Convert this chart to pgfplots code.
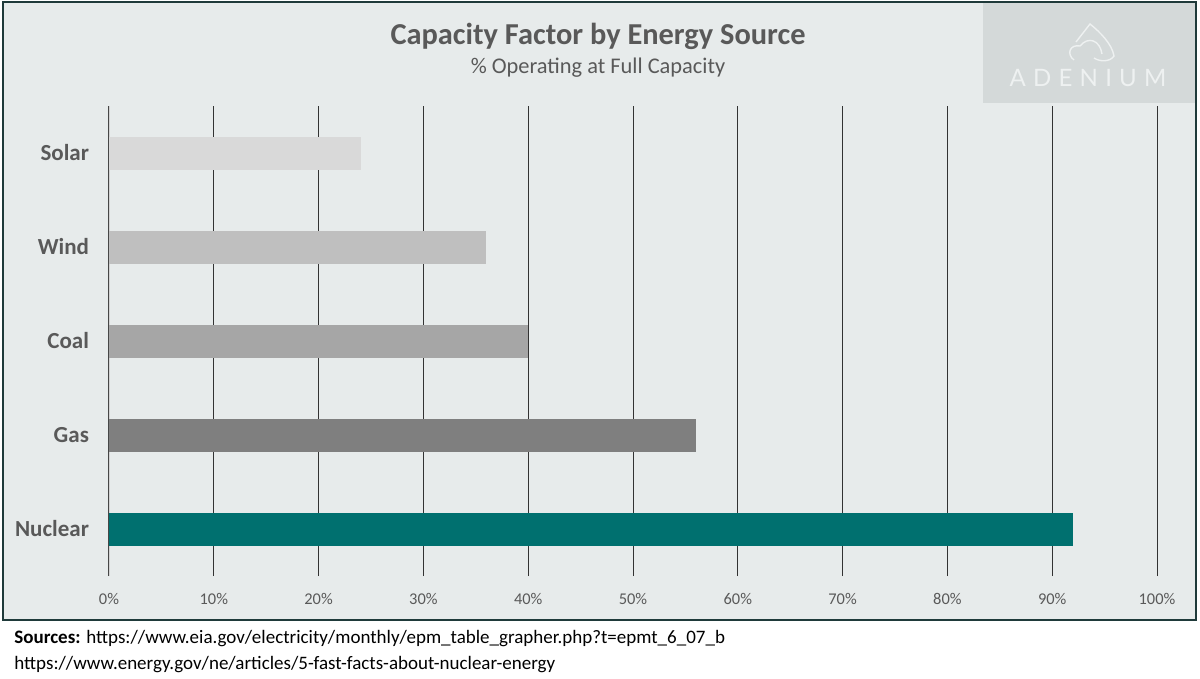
\documentclass[border=0pt]{standalone}
\usepackage{fontspec}
\setmainfont{Carlito}
\newfontfamily\adfont[LetterSpace=30]{Lato}
\usepackage{pgfplots}
\pgfplotsset{compat=1.18}
\definecolor{bg}{HTML}{E7EBEB}
\definecolor{wm}{HTML}{D4D9D9}
\definecolor{wmtext}{HTML}{EEF1F1}
\definecolor{frame}{HTML}{1F3A3A}
\definecolor{tgray}{HTML}{595959}
\definecolor{cSolar}{HTML}{D9D9D9}
\definecolor{cWind}{HTML}{BFBFBF}
\definecolor{cCoal}{HTML}{A6A6A6}
\definecolor{cGas}{HTML}{7F7F7F}
\definecolor{cNuc}{HTML}{00706F}
\begin{document}
\begin{tikzpicture}
\useasboundingbox (0,0) rectangle (600pt,-339.5pt);
\fill[bg] (1.5pt,-1pt) rectangle (598pt,-310pt);
\fill[wm] (491.5pt,-1pt) rectangle (598pt,-51.5pt);
% logo
\draw[wmtext, line width=0.7pt] (537pt,-30pt) .. controls (533pt,-27pt) and (535pt,-22pt) .. (540pt,-23pt)
  .. controls (544pt,-18pt) and (550pt,-20pt) .. (551pt,-27pt);
\draw[wmtext, line width=0.7pt] (538pt,-21pt) -- (545pt,-12pt) .. controls (550pt,-16pt) and (556pt,-22pt) .. (557pt,-28pt)
  .. controls (555pt,-31pt) and (550pt,-31pt) .. (547pt,-29pt);
\node[wmtext, font=\adfont\fontsize{12}{14}\selectfont] at (544pt,-39pt) {ADENIUM};
\node[text=tgray, font=\fontsize{15.2}{18}\selectfont\bfseries] at (299pt,-18pt) {Capacity Factor by Energy Source};
\node[text=tgray, font=\fontsize{11.2}{13}\selectfont] at (299pt,-34pt) {\% Operating at Full Capacity};
\begin{axis}[
  at={(54.5pt,-288pt)}, anchor=south west,
  scale only axis, width=524pt, height=235pt,
  xmin=0, xmax=100, ymin=-0.5, ymax=4.5,
  axis line style={draw=none},
  xtick={0,10,...,100},
  xticklabel={\pgfmathprintnumber{\tick}\%},
  ytick={0,1,2,3,4},
  yticklabels={Nuclear,Gas,Coal,Wind,Solar},
  major tick length=0pt,
  /pgf/number format/assume math mode=true,
  xticklabel style={text=tgray, font=\fontsize{8.2}{10}\selectfont, yshift=-5pt},
  yticklabel style={text=tgray, font=\fontsize{11.5}{13}\selectfont\bfseries, xshift=-6.5pt},
  xmajorgrids, major grid style={draw=black!80, line width=0.5pt},
  xbar, bar width=16.5pt, bar shift=0pt,
]
\draw[gray!35, line width=0.6pt] (axis cs:0,-0.5) -- (axis cs:0,4.5);
\addplot[fill=cNuc, draw=none] coordinates {(92,0)};
\addplot[fill=cGas, draw=none] coordinates {(56,1)};
\addplot[fill=cCoal, draw=none] coordinates {(40,2)};
\addplot[fill=cWind, draw=none] coordinates {(36,3)};
\addplot[fill=cSolar, draw=none] coordinates {(24,4)};
\end{axis}
\draw[frame, line width=0.9pt] (1.5pt,-1pt) rectangle (598pt,-310pt);
\node[anchor=base west, font=\fontsize{9.5}{11}\selectfont, inner sep=0pt] at (7pt,-321.5pt) {\textbf{Sources:} https://www.eia.gov/electricity/monthly/epm\_table\_grapher.php?t=epmt\_6\_07\_b};
\node[anchor=base west, font=\fontsize{9.5}{11}\selectfont, inner sep=0pt] at (7pt,-334.5pt) {https://www.energy.gov/ne/articles/5-fast-facts-about-nuclear-energy};
\end{tikzpicture}
\end{document}
